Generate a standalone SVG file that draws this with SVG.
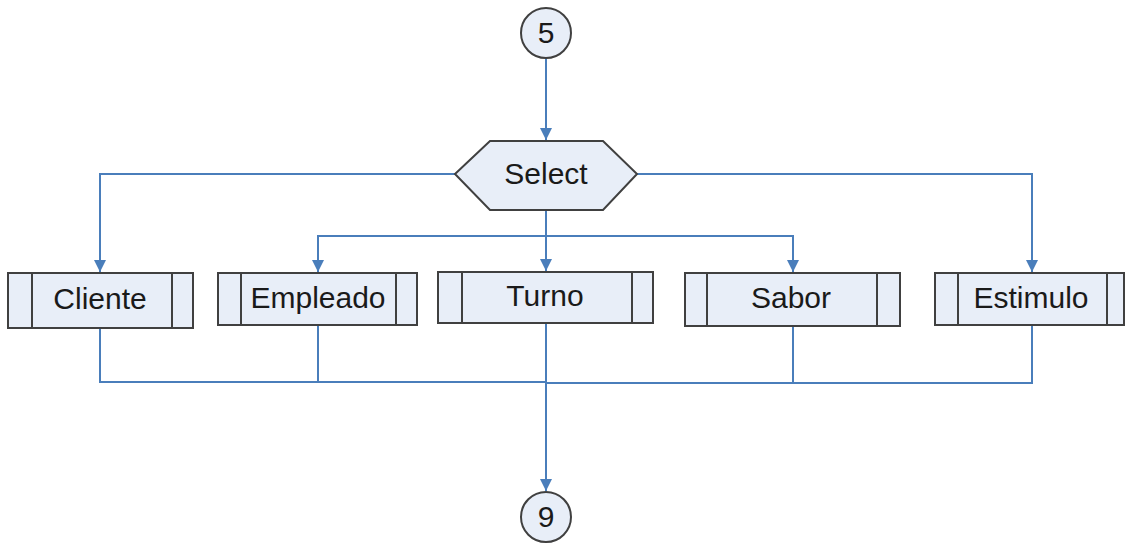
<svg xmlns="http://www.w3.org/2000/svg" width="1126" height="546" viewBox="0 0 1126 546">
<style>
.shape{fill:#e8eef8;stroke:#404040;stroke-width:2}
.div{stroke:#404040;stroke-width:2}
.lbl{font-family:"Liberation Sans",Arial,sans-serif;font-size:30px;fill:#1a1a1a;text-anchor:middle}
.con{fill:none;stroke:#4a7ebb;stroke-width:2}
</style>
<defs>
<marker id="arrb" viewBox="0 0 10 10" refX="10" refY="5" markerWidth="12" markerHeight="12" markerUnits="userSpaceOnUse" orient="auto">
<path d="M0,0 L10,5 L0,10 z" fill="#4a7ebb"/>
</marker>
</defs>
<rect width="1126" height="546" fill="#ffffff"/>
<g id="connectors">
<path class="con" d="M546,58 V140" marker-end="url(#arrb)"/>
<path class="con" d="M455,174 H100 V272" marker-end="url(#arrb)"/>
<path class="con" d="M637,174 H1032 V272" marker-end="url(#arrb)"/>
<path class="con" d="M546,210 V271" marker-end="url(#arrb)"/>
<path class="con" d="M546,236 H318 V272" marker-end="url(#arrb)"/>
<path class="con" d="M546,236 H793 V272" marker-end="url(#arrb)"/>
<path class="con" d="M100,328 V382 H546"/>
<path class="con" d="M318,325 V382"/>
<path class="con" d="M793,326 V383"/>
<path class="con" d="M1032,325 V383 H546"/>
<path class="con" d="M546,323 V491" marker-end="url(#arrb)"/>
</g>
<g id="n5">
<circle class="shape" cx="546" cy="33" r="25"/>
<text class="lbl" x="546" y="43">5</text>
</g>
<g id="select">
<polygon class="shape" points="455,174 490,141 603,141 637,174 603,210 490,210"/>
<text class="lbl" x="546" y="184">Select</text>
</g>
<g id="cliente">
<rect class="shape" x="8" y="273" width="185" height="55"/>
<line class="div" x1="32" y1="273" x2="32" y2="328"/>
<line class="div" x1="172" y1="273" x2="172" y2="328"/>
<text class="lbl" x="100" y="309">Cliente</text>
</g>
<g id="empleado">
<rect class="shape" x="218" y="273" width="199" height="52"/>
<line class="div" x1="241" y1="273" x2="241" y2="325"/>
<line class="div" x1="396" y1="273" x2="396" y2="325"/>
<text class="lbl" x="318" y="308">Empleado</text>
</g>
<g id="turno">
<rect class="shape" x="438" y="272" width="215" height="51"/>
<line class="div" x1="462" y1="272" x2="462" y2="323"/>
<line class="div" x1="632" y1="272" x2="632" y2="323"/>
<text class="lbl" x="545" y="306">Turno</text>
</g>
<g id="sabor">
<rect class="shape" x="685" y="273" width="215" height="53"/>
<line class="div" x1="707" y1="273" x2="707" y2="326"/>
<line class="div" x1="877" y1="273" x2="877" y2="326"/>
<text class="lbl" x="791" y="308">Sabor</text>
</g>
<g id="estimulo">
<rect class="shape" x="935" y="273" width="189" height="52"/>
<line class="div" x1="958" y1="273" x2="958" y2="325"/>
<line class="div" x1="1107" y1="273" x2="1107" y2="325"/>
<text class="lbl" x="1031" y="308">Estimulo</text>
</g>
<g id="n9">
<circle class="shape" cx="546" cy="517" r="25"/>
<text class="lbl" x="546" y="527">9</text>
</g>
</svg>
